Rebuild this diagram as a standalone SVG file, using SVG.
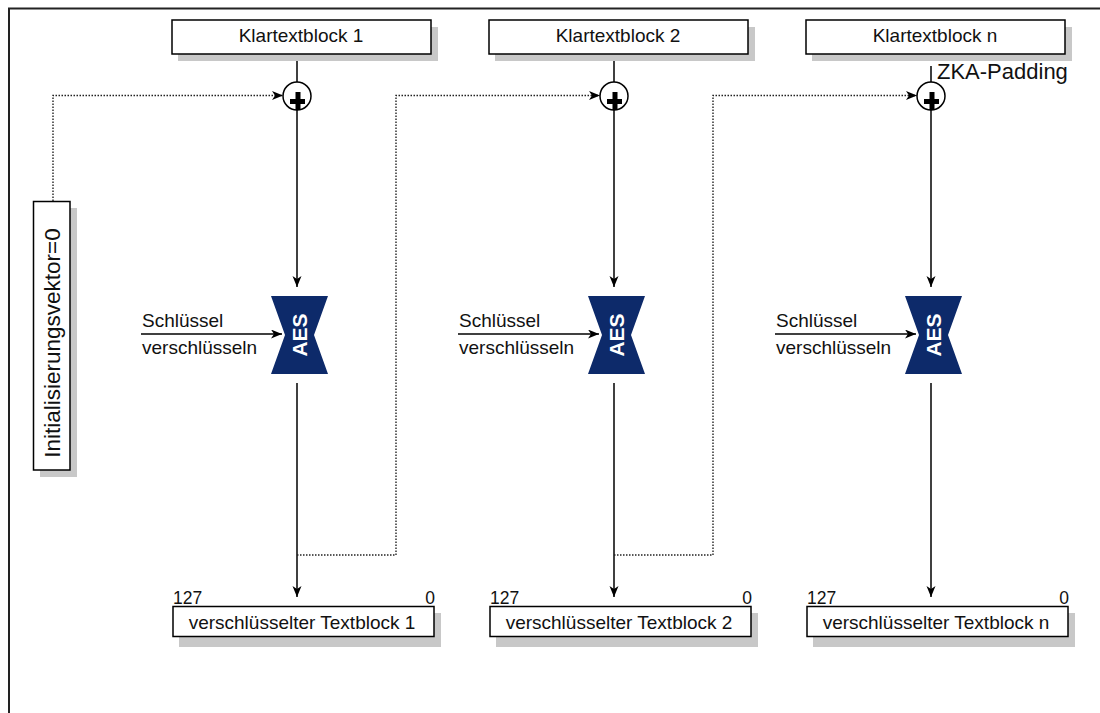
<svg xmlns="http://www.w3.org/2000/svg" width="1100" height="713" viewBox="0 0 1100 713">
<style>
.box{fill:#fff;stroke:#000;stroke-width:1.5}
.shadow{fill:#c8c8c8}
.t{font-family:"Liberation Sans",Arial,sans-serif;fill:#111}
.bt{font-size:19px;text-anchor:middle}
.lbl{font-size:19px}
.num{font-size:17.5px}
.aes{fill:#0d2a6a}
.aest{font-family:"Liberation Sans",Arial,sans-serif;font-weight:bold;font-size:21px;fill:#fff;text-anchor:middle}
.solid{stroke:#000;stroke-width:1.5;fill:none}
.dot{stroke:#222;stroke-width:1.4;fill:none;stroke-dasharray:1.5,1.5}
.xor{fill:#fff;stroke:#000;stroke-width:1.5}
</style>
<defs>
<marker id="ah" markerWidth="12" markerHeight="10" refX="11" refY="4.5" orient="auto" markerUnits="userSpaceOnUse">
<path d="M0,0 L11,4.5 L0,9 L3,4.5 z" fill="#000"/>
</marker>
<g id="plus">
<rect x="-8" y="3" width="15" height="5" fill="#000"/>
<rect x="-2.5" y="-4" width="5" height="18" fill="#000"/>
</g>
</defs>
<rect width="1100" height="713" fill="#fff"/>
<path d="M9,713 V8.5 H1100" fill="none" stroke="#222" stroke-width="2"/>

<g id="connectors">
<line class="solid" x1="297" y1="54" x2="297" y2="82"/>
<line class="solid" x1="297" y1="110" x2="297" y2="287" marker-end="url(#ah)"/>
<line class="solid" x1="297" y1="383" x2="297" y2="597" marker-end="url(#ah)"/>
<line class="solid" x1="141" y1="334" x2="282" y2="334" marker-end="url(#ah)"/>
<line class="solid" x1="614" y1="54" x2="614" y2="82"/>
<line class="solid" x1="614" y1="110" x2="614" y2="287" marker-end="url(#ah)"/>
<line class="solid" x1="614" y1="383" x2="614" y2="597" marker-end="url(#ah)"/>
<line class="solid" x1="458" y1="334" x2="599" y2="334" marker-end="url(#ah)"/>
<line class="solid" x1="931" y1="66" x2="931" y2="82"/>
<line class="solid" x1="931" y1="110" x2="931" y2="287" marker-end="url(#ah)"/>
<line class="solid" x1="931" y1="383" x2="931" y2="597" marker-end="url(#ah)"/>
<line class="solid" x1="775" y1="334" x2="916" y2="334" marker-end="url(#ah)"/>
<path class="dot" d="M53,201 V95.5 H283" marker-end="url(#ah)"/>
<path class="dot" d="M297,555 H396 V95.5 H600" marker-end="url(#ah)"/>
<path class="dot" d="M614,555 H713 V95.5 H917" marker-end="url(#ah)"/>
</g>

<g id="iv">
<rect class="shadow" x="40" y="208" width="37" height="269"/>
<rect class="box" x="33.5" y="201.5" width="36.5" height="268.5"/>
<text class="t" font-size="22.5" text-anchor="middle" transform="translate(60,343) rotate(-90)">Initialisierungsvektor=0</text>
</g>

<g id="klar1">
<rect class="shadow" x="178" y="27" width="260" height="34"/>
<rect class="box" x="172" y="20" width="259" height="34"/>
<text class="t bt" x="301" y="42">Klartextblock 1</text>
</g>
<g id="klar2">
<rect class="shadow" x="495" y="27" width="260" height="34"/>
<rect class="box" x="489" y="20" width="259" height="34"/>
<text class="t bt" x="618" y="42">Klartextblock 2</text>
</g>
<g id="klarn">
<rect class="shadow" x="812" y="27" width="260" height="34"/>
<rect class="box" x="806" y="20" width="259" height="34"/>
<text class="t bt" x="935" y="42">Klartextblock n</text>
</g>
<text id="zka" class="t" font-size="22" x="937" y="79">ZKA-Padding</text>

<g id="xor1">
<circle class="xor" cx="297" cy="96" r="14"/>
<use href="#plus" x="298" y="96"/>
</g>
<g id="xor2">
<circle class="xor" cx="614" cy="96" r="14"/>
<use href="#plus" x="615" y="96"/>
</g>
<g id="xorn">
<circle class="xor" cx="931" cy="96" r="14"/>
<use href="#plus" x="932" y="96"/>
</g>

<g id="aes1">
<path class="aes" d="M271,296 H328 L314,335 L328,374 H271 L285,335 z"/>
<text class="aest" transform="translate(307,335) rotate(-90)">AES</text>
<text class="t lbl" x="142" y="327">Schlüssel</text>
<text class="t lbl" x="142" y="354">verschlüsseln</text>
</g>
<g id="aes2">
<path class="aes" d="M588,296 H645 L631,335 L645,374 H588 L602,335 z"/>
<text class="aest" transform="translate(624,335) rotate(-90)">AES</text>
<text class="t lbl" x="459" y="327">Schlüssel</text>
<text class="t lbl" x="459" y="354">verschlüsseln</text>
</g>
<g id="aesn">
<path class="aes" d="M905,296 H962 L948,335 L962,374 H905 L919,335 z"/>
<text class="aest" transform="translate(941,335) rotate(-90)">AES</text>
<text class="t lbl" x="776" y="327">Schlüssel</text>
<text class="t lbl" x="776" y="354">verschlüsseln</text>
</g>

<g id="out1">
<rect class="shadow" x="179" y="613" width="262" height="34"/>
<rect class="box" x="173" y="606.5" width="261" height="30"/>
<text class="t bt" x="302" y="629">verschlüsselter Textblock 1</text>
<text class="t num" x="173" y="604">127</text>
<text class="t num" x="435" y="604" text-anchor="end">0</text>
</g>
<g id="out2">
<rect class="shadow" x="496" y="613" width="262" height="34"/>
<rect class="box" x="490" y="606.5" width="261" height="30"/>
<text class="t bt" x="619" y="629">verschlüsselter Textblock 2</text>
<text class="t num" x="490" y="604">127</text>
<text class="t num" x="752" y="604" text-anchor="end">0</text>
</g>
<g id="outn">
<rect class="shadow" x="813" y="613" width="262" height="34"/>
<rect class="box" x="807" y="606.5" width="261" height="30"/>
<text class="t bt" x="936" y="629">verschlüsselter Textblock n</text>
<text class="t num" x="807" y="604">127</text>
<text class="t num" x="1069" y="604" text-anchor="end">0</text>
</g>
</svg>
